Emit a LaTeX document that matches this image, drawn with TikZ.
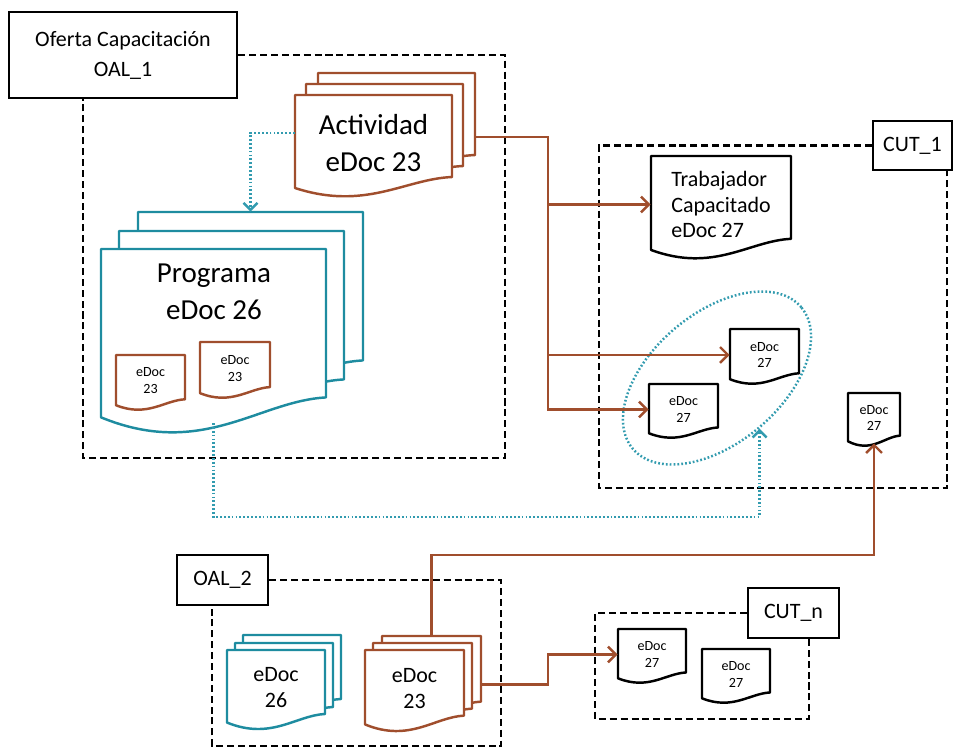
\documentclass[tikz,border=0pt]{standalone}
\usepackage{fontspec}
\setmainfont{Carlito}
\usetikzlibrary{positioning, arrows.meta, shapes.geometric}

\definecolor{docbrown}{RGB}{160,78,45}
\definecolor{docteal}{RGB}{30,140,160}
\definecolor{dotteal}{RGB}{50,155,175}

\tikzset{
  caja/.style={draw, line width=1.5pt, fill=white, inner sep=0pt, align=center, font=\fontsize{12.5}{17}\selectfont},
  grupo/.style={line width=1.4pt, dash pattern=on 4pt off 2.2pt},
  flujo/.style={draw=docbrown, line width=1.4pt, -{Straight Barb[length=4.5pt,width=9pt]}},
  enlace/.style={draw=dotteal, line width=1.4pt, dash pattern=on 1pt off 1.2pt, -{Straight Barb[length=4pt,width=8pt]}},
  docline/.style={line width=1.4pt, fill=white, line join=round},
  docnode/.style={inner sep=0pt, align=center},
  titulo/.style={font=\fontsize{16.5}{21}\selectfont},
  medio/.style={font=\fontsize{12.5}{14.5}\selectfont},
  chico/.style={font=\fontsize{8}{9.6}\selectfont},
}

% documento con borde ondulado: [opciones]{nombre}{x}{y}{ancho}{alto}{color}{texto}
\newcommand{\edoc}[8][]{%
  \draw[docline, draw=#7, shift={(#3,#4)}] (0,0) -- (#5,0) -- (#5,{.82*#6})
    .. controls ({.7*#5},{.84*#6}) and ({.45*#5},{1.16*#6}) .. (0,{.93*#6}) -- cycle;
  \node[docnode, minimum width=#5*0.2mm, minimum height=.96*#6*0.2mm, #1] (#2) at ({#3+#5/2},{#4+.48*#6}) {#8};
}

\begin{document}
\begin{tikzpicture}[x=0.2mm, y=-0.2mm]
  \useasboundingbox (0,0) rectangle (953,750);

  % cajas de titulo
  \node[caja, minimum width=4.56cm, minimum height=1.72cm] (oferta) at (123,55) {Oferta Capacitación\\OAL\_1};
  \node[caja, minimum width=1.58cm, minimum height=0.98cm] (cut1) at (912.5,145.5) {CUT\_1};
  \node[caja, minimum width=1.82cm, minimum height=1cm] (oal2) at (222.5,580) {OAL\_2};
  \node[caja, minimum width=1.82cm, minimum height=1cm] (cutn) at (793.5,613) {CUT\_n};

  % marcos punteados
  \draw[grupo] (oferta.east) -| (505,458) -| (oferta.south -| 83,0);
  \draw[grupo] (cut1.west) -| (599,488) -| (cut1.south -| 947,0);
  \draw[grupo] (oal2.east) -| (501,746) -| (oal2.south -| 212,0);
  \draw[grupo] (cutn.west) -| (595,719) -| (cutn.south -| 809,0);

  % OAL_1
  \edoc{act3}{318}{73}{157}{100}{docbrown}{}
  \edoc{act2}{306}{84}{157}{100}{docbrown}{}
  \edoc[titulo]{act1}{295}{95}{157}{100}{docbrown}{Actividad\\eDoc 23}

  \edoc{prog3}{138}{212}{225}{181}{docteal}{}
  \edoc{prog2}{119}{231}{225}{181}{docteal}{}
  \edoc{prog1}{101}{249}{225}{181}{docteal}{}
  \node[titulo, align=center] (progtxt) at (214,292) {Programa\\eDoc 26};
  \edoc[chico]{p23a}{116}{355}{69}{54}{docbrown}{eDoc\\23}
  \edoc[chico]{p23b}{200}{342}{70}{55}{docbrown}{eDoc\\23}

  % CUT_1
  \edoc[medio, align=left]{trab}{651}{156}{140}{101}{black}{Trabajador\\Capacitado\\eDoc 27}
  \edoc[chico]{up27}{730}{329}{69}{54}{black}{eDoc\\27}
  \edoc[chico]{lo27}{649}{384}{69}{53}{black}{eDoc\\27}
  \edoc[chico]{r27}{848}{393}{52}{52}{black}{eDoc\\27}
  \node[ellipse, draw=dotteal, line width=1.4pt, dash pattern=on 1pt off 1.2pt,
        minimum width=4.4cm, minimum height=2.6cm, rotate=40] (grupo27) at (717,378) {};

  % OAL_2
  \edoc{o26c}{243}{635}{98}{78}{docteal}{}
  \edoc{o26b}{235}{643}{98}{78}{docteal}{}
  \edoc[medio]{o26a}{227}{650}{98}{78}{docteal}{eDoc\\26}
  \edoc{o23c}{382}{636}{99}{80}{docbrown}{}
  \edoc{o23b}{373}{643}{99}{80}{docbrown}{}
  \edoc[medio]{o23a}{365}{650}{99}{80}{docbrown}{eDoc\\23}

  % CUT_n
  \edoc[chico]{n1}{618}{629}{68}{53}{black}{eDoc\\27}
  \edoc[chico]{n2}{702}{649}{68}{53}{black}{eDoc\\27}

  % flechas
  \coordinate (bus) at (548,0);
  \coordinate (bajo) at (0,517);
  \coordinate (alto) at (0,555);

  \draw[flujo] ([yshift=-0.32cm]act3.east) -| (bus |- lo27.west) -- (lo27.west);
  \draw[flujo] (bus |- trab.west) -- (trab.west);
  \draw[flujo] (bus |- up27.west) -- (up27.west);
  \draw[enlace] ([yshift=0.2cm]act1.west) -| (prog3.north);
  \draw[enlace] (prog1.south) |- (bajo -| grupo27.south) -- (grupo27.south);
  \draw[flujo] (o23c.north) |- (alto -| r27.south) -- (r27.south);
  \draw[flujo] ([yshift=-0.2cm]o23c.east) -| (bus |- n1.west) -- (n1.west);
\end{tikzpicture}
\end{document}
